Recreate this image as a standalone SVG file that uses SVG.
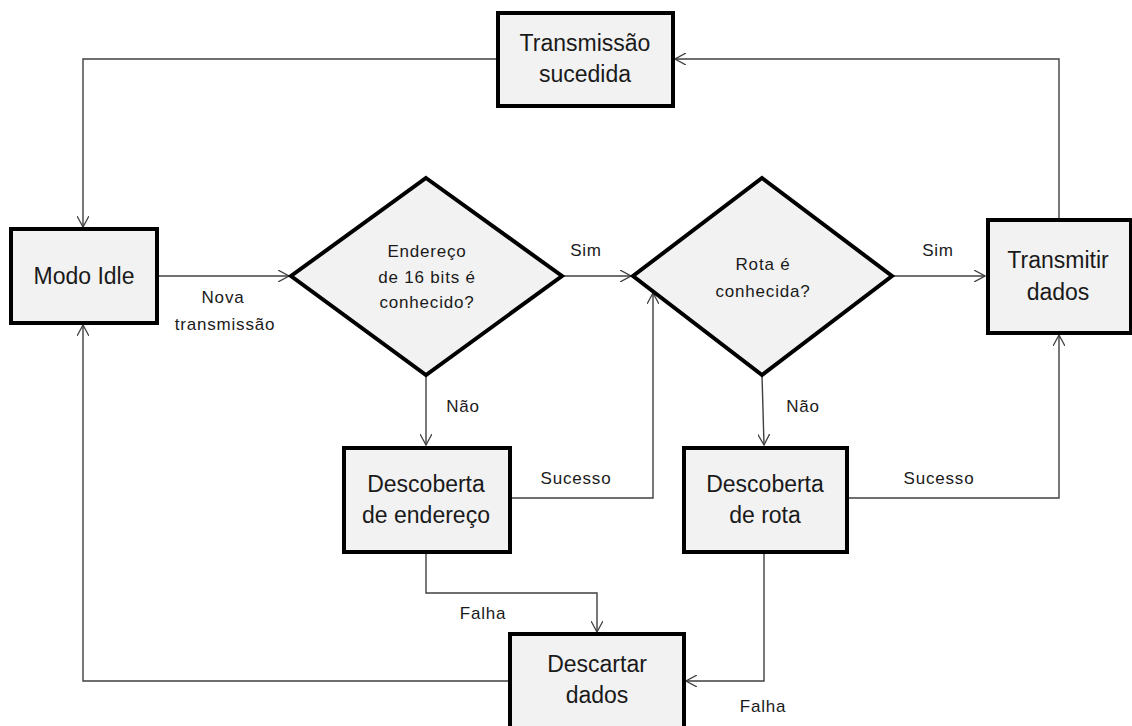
<svg xmlns="http://www.w3.org/2000/svg" width="1132" height="726" viewBox="0 0 1132 726">
<defs>
<marker id="arr" viewBox="0 0 12 12" refX="11" refY="6" markerWidth="12" markerHeight="12" markerUnits="userSpaceOnUse" orient="auto">
<path d="M0,0 L11,6 L0,12" fill="none" stroke="#404040" stroke-width="1.3"/>
</marker>
</defs>
<style>
.box{fill:#f2f2f2;stroke:#000;stroke-width:4}
.big{font-family:"Liberation Sans",Arial,sans-serif;font-size:23px;fill:#1a1a1a;text-anchor:middle}
.mid{font-family:"Liberation Sans",Arial,sans-serif;font-size:17px;letter-spacing:0.8px;fill:#1a1a1a;text-anchor:middle}
.lbl{font-family:"Liberation Sans",Arial,sans-serif;font-size:17px;letter-spacing:0.8px;fill:#1a1a1a;text-anchor:middle}
.c{fill:none;stroke:#404040;stroke-width:1.4}
</style>
<rect width="1132" height="726" fill="#fff"/>
<g id="connectors">
<polyline class="c" points="496,59 83,59 83,227" marker-end="url(#arr)"/>
<polyline class="c" points="157,276 289,276" marker-end="url(#arr)"/>
<polyline class="c" points="562,276 631,276" marker-end="url(#arr)"/>
<polyline class="c" points="892,276 985,276" marker-end="url(#arr)"/>
<polyline class="c" points="1059,219 1059,59 675,59" marker-end="url(#arr)"/>
<polyline class="c" points="426,375 426,445" marker-end="url(#arr)"/>
<polyline class="c" points="762,375 764,445" marker-end="url(#arr)"/>
<polyline class="c" points="510,498 653,498 653,293" marker-end="url(#arr)"/>
<polyline class="c" points="847,498 1059,498 1059,335" marker-end="url(#arr)"/>
<polyline class="c" points="426,552 426,593 597,593 597,632" marker-end="url(#arr)"/>
<polyline class="c" points="764,552 764,681 686,681" marker-end="url(#arr)"/>
<polyline class="c" points="509,681 83,681 83,325" marker-end="url(#arr)"/>
<text class="lbl" x="223" y="303">Nova</text>
<text class="lbl" x="225" y="330">transmissão</text>
<text class="lbl" x="586" y="256">Sim</text>
<text class="lbl" x="938" y="256">Sim</text>
<text class="lbl" x="463" y="412">Não</text>
<text class="lbl" x="803" y="412">Não</text>
<text class="lbl" x="576" y="484">Sucesso</text>
<text class="lbl" x="939" y="484">Sucesso</text>
<text class="lbl" x="483" y="619">Falha</text>
<text class="lbl" x="763" y="712">Falha</text>
</g>
<g id="transmissao-sucedida">
<rect class="box" x="498" y="13" width="175" height="93"/>
<text class="big" x="585" y="51">Transmissão</text>
<text class="big" x="585" y="82">sucedida</text>
</g>
<g id="modo-idle">
<rect class="box" x="11" y="229" width="146" height="94"/>
<text class="big" x="84" y="284">Modo Idle</text>
</g>
<g id="endereco-conhecido">
<polygon class="box" points="426,178 562,276 426,375 291,276"/>
<text class="mid" x="427" y="257">Endereço</text>
<text class="mid" x="427" y="283">de 16 bits é</text>
<text class="mid" x="427" y="308">conhecido?</text>
</g>
<g id="rota-conhecida">
<polygon class="box" points="762,178 892,276 762,375 633,276"/>
<text class="mid" x="763" y="270">Rota é</text>
<text class="mid" x="763" y="297">conhecida?</text>
</g>
<g id="transmitir-dados">
<rect class="box" x="988" y="220" width="143" height="113"/>
<text class="big" x="1058" y="268">Transmitir</text>
<text class="big" x="1058" y="300">dados</text>
</g>
<g id="descoberta-endereco">
<rect class="box" x="344" y="448" width="166" height="104"/>
<text class="big" x="426" y="492">Descoberta</text>
<text class="big" x="426" y="523">de endereço</text>
</g>
<g id="descoberta-rota">
<rect class="box" x="684" y="448" width="163" height="104"/>
<text class="big" x="765" y="492">Descoberta</text>
<text class="big" x="765" y="523">de rota</text>
</g>
<g id="descartar-dados">
<rect class="box" x="510" y="634" width="174" height="110"/>
<text class="big" x="597" y="672">Descartar</text>
<text class="big" x="597" y="703">dados</text>
</g>
</svg>
